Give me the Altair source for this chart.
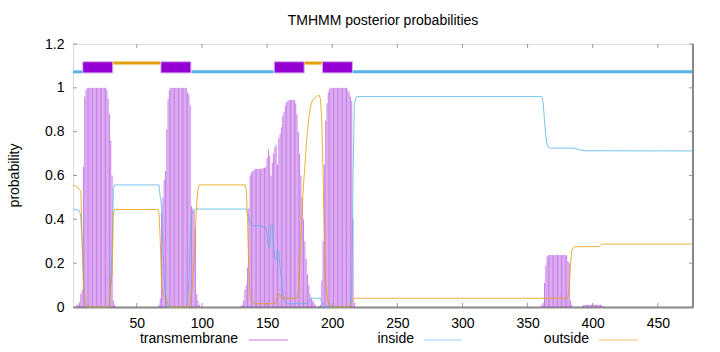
import altair as alt
import pandas as pd

# ---------------- data ----------------
seq_length = 477

# transmembrane posterior probability, one value per residue, in blocks (start residue, values)
tm_block1_start = 4
tm_block1 = [0.01, 0.01, 0.02, 0.06, 0.08, 0.64, 0.96, 0.99,
             1.0, 1.0, 1.0, 1.0, 1.0, 1.0, 1.0, 1.0, 1.0, 1.0, 1.0, 1.0, 1.0, 1.0, 1.0,
             0.99, 0.95, 0.88, 0.76, 0.6, 0.03, 0.01]
tm_block2_start = 67
tm_block2 = [0.01, 0.04, 0.43, 0.5, 0.58, 0.62, 0.81, 0.95, 0.99,
             1.0, 1.0, 1.0, 1.0, 1.0, 1.0, 1.0, 1.0, 1.0, 1.0, 1.0, 1.0, 1.0,
             0.98, 0.97, 0.92, 0.46, 0.45, 0.44, 0.36, 0.06, 0.03, 0.01]
tm_block3_start = 130
tm_block3 = [0.005, 0.01, 0.03, 0.08, 0.1, 0.18, 0.45, 0.6, 0.615, 0.62, 0.625,
             0.63, 0.63, 0.63, 0.63, 0.63, 0.632, 0.633, 0.635, 0.64, 0.68, 0.72,
             0.69, 0.6, 0.66, 0.7, 0.73, 0.74, 0.65, 0.77, 0.79, 0.82, 0.87, 0.89,
             0.92, 0.935, 0.94, 0.945, 0.945, 0.945, 0.945, 0.945, 0.93, 0.88, 0.8,
             0.7, 0.6, 0.5, 0.4, 0.3, 0.22, 0.15, 0.1, 0.06, 0.04, 0.03, 0.02, 0.01]
tm_block4_start = 190
tm_block4 = [0.005, 0.01, 0.12, 0.3, 0.65, 0.85, 0.93, 0.98, 0.995,
             1.0, 1.0, 1.0, 1.0, 1.0, 1.0, 1.0, 1.0, 1.0, 1.0, 1.0, 1.0, 1.0,
             0.99, 0.98, 0.96, 0.94, 0.4, 0.02]
tm_block5_start = 361
tm_block5 = [0.01, 0.02, 0.11, 0.19, 0.23,
             0.237, 0.237, 0.237, 0.237, 0.237, 0.237, 0.237, 0.237, 0.237, 0.237,
             0.237, 0.237, 0.237, 0.237, 0.235, 0.21, 0.2, 0.03, 0.01]
tm_block6_start = 392
tm_block6 = [0.004, 0.008, 0.01, 0.01, 0.01, 0.01, 0.01, 0.01, 0.01, 0.01, 0.01,
             0.01, 0.01, 0.01, 0.01, 0.006, 0.003]

# inside / outside posterior probability (residue, value) points of the curves
inside_res = [1, 6, 7, 8, 9, 10, 11, 12, 28, 29, 30, 31, 32, 33, 67, 68, 69, 70, 71, 72,
              73, 74, 88, 89, 90, 91, 92, 93, 94, 95, 134, 135, 136, 137, 138, 139, 146,
              147, 149, 150, 151, 152, 153, 154, 155, 156, 157, 158, 159, 160, 161, 162,
              163, 164, 165, 181, 182, 183, 184, 191, 192, 193, 194, 213, 214, 215, 216,
              217, 218, 219, 361, 362, 363, 364, 365, 366, 367, 385, 393, 477]
inside_p = [0.447, 0.44, 0.41, 0.3, 0.15, 0.02, 0.005, 0.0, 0.0, 0.01, 0.1, 0.25, 0.54,
            0.557, 0.557, 0.5, 0.46, 0.3, 0.12, 0.05, 0.01, 0.0, 0.0, 0.02, 0.12, 0.3,
            0.42, 0.435, 0.44, 0.447, 0.447, 0.43, 0.4, 0.385, 0.375, 0.37, 0.37, 0.365,
            0.365, 0.33, 0.28, 0.27, 0.37, 0.38, 0.28, 0.22, 0.21, 0.26, 0.25, 0.18, 0.13,
            0.07, 0.03, 0.02, 0.015, 0.015, 0.02, 0.03, 0.04, 0.04, 0.02, 0.005, 0.0, 0.0,
            0.01, 0.05, 0.6, 0.92, 0.955, 0.96, 0.96, 0.93, 0.85, 0.78, 0.74, 0.73, 0.725,
            0.725, 0.713, 0.712]
outside_res = [1, 4, 6, 7, 8, 9, 10, 11, 12, 29, 30, 31, 32, 33, 66, 67, 68, 69, 70, 71,
               72, 73, 74, 75, 76, 90, 91, 92, 93, 94, 95, 96, 97, 98, 133, 134, 135, 136,
               137, 138, 139, 140, 156, 157, 158, 159, 160, 161, 162, 173, 174, 175, 176,
               177, 178, 179, 180, 181, 182, 183, 184, 185, 186, 187, 188, 189, 190, 191,
               192, 193, 194, 195, 196, 197, 198, 199, 213, 214, 215, 216, 217, 380, 381,
               382, 383, 384, 385, 386, 405, 406, 407, 477]
outside_p = [0.557, 0.55, 0.535, 0.53, 0.3, 0.1, 0.02, 0.005, 0.0, 0.0, 0.1, 0.15, 0.43,
             0.445, 0.445, 0.43, 0.3, 0.1, 0.06, 0.05, 0.04, 0.03, 0.015, 0.005, 0.0, 0.0,
             0.02, 0.06, 0.12, 0.22, 0.35, 0.48, 0.54, 0.557, 0.557, 0.54, 0.4, 0.15, 0.05,
             0.03, 0.02, 0.015, 0.015, 0.03, 0.05, 0.06, 0.055, 0.045, 0.04, 0.04, 0.06,
             0.18, 0.32, 0.46, 0.56, 0.64, 0.73, 0.8, 0.86, 0.9, 0.93, 0.945, 0.95, 0.955,
             0.96, 0.965, 0.965, 0.95, 0.85, 0.6, 0.3, 0.12, 0.05, 0.02, 0.005, 0.0, 0.0,
             0.01, 0.02, 0.035, 0.04, 0.04, 0.05, 0.08, 0.2, 0.26, 0.27, 0.275, 0.276,
             0.283, 0.287, 0.287]

# predicted topology segments
seg_type = ["inside", "TMhelix", "outside", "TMhelix", "inside", "TMhelix", "outside",
            "TMhelix", "inside"]
seg_start = [1, 9, 32, 69, 92, 156, 179, 193, 216]
seg_end = [8, 31, 68, 91, 155, 178, 192, 215, 477]

x_ticks = [50, 100, 150, 200, 250, 300, 350, 400, 450]
y_ticks = [0, 0.2, 0.4, 0.6, 0.8, 1.0, 1.2]
legend_labels = ["transmembrane", "inside", "outside"]

# ---------------- build tables ----------------
tm_rows = []
for start, vals in [(tm_block1_start, tm_block1), (tm_block2_start, tm_block2),
                    (tm_block3_start, tm_block3), (tm_block4_start, tm_block4),
                    (tm_block5_start, tm_block5), (tm_block6_start, tm_block6)]:
    for i, v in enumerate(vals):
        tm_rows.append({"residue": start + i, "p": v})
tm_df = pd.DataFrame(tm_rows)
inside_df = pd.DataFrame({"residue": inside_res, "p": inside_p})
outside_df = pd.DataFrame({"residue": outside_res, "p": outside_p})
seg_df = pd.DataFrame({"type": seg_type, "start": seg_start, "end": seg_end})
xt_df = pd.DataFrame({"v": x_ticks})
yt_df = pd.DataFrame({"v": y_ticks})
one_df = pd.DataFrame({"a": [0]})

W, H = 620, 263
FONT = "Liberation Sans"
PURPLE = "#9400d3"
BLUE = "#56b4e9"
ORANGE = "#e69f00"

xs = alt.Scale(domain=[1, seq_length], nice=False, zero=False)
ys = alt.Scale(domain=[0, 1.2], nice=False, zero=False)

x_axis = alt.Axis(values=x_ticks, title=None, ticks=False, tickSize=0, grid=False,
                  domainColor="#888888", domainWidth=2, labelFont=FONT, labelFontSize=14,
                  labelColor="#000000", labelPadding=9, labelFlush=False)
y_axis = alt.Axis(values=y_ticks, format="~g", title="probability", ticks=False, tickSize=0,
                  grid=False, domain=False, labelFont=FONT, labelFontSize=14,
                  labelColor="#000000", labelPadding=9, titleFont=FONT, titleFontSize=14,
                  titleFontWeight="normal", titleColor="#000000", titleX=-59, titleY=131,
                  titleBaseline="middle", titleAngle=270)

tm_layer = alt.Chart(tm_df).mark_rule(color=PURPLE, strokeWidth=1, opacity=0.5).encode(
    x=alt.X("residue:Q", scale=xs, axis=x_axis),
    y=alt.Y("p:Q", scale=ys, axis=y_axis),
    y2=alt.datum(0),
)

inside_layer = alt.Chart(inside_df).mark_line(color=BLUE, strokeWidth=1, opacity=0.8).encode(
    x=alt.X("residue:Q", scale=xs), y=alt.Y("p:Q", scale=ys))
outside_layer = alt.Chart(outside_df).mark_line(color=ORANGE, strokeWidth=1, opacity=0.8).encode(
    x=alt.X("residue:Q", scale=xs), y=alt.Y("p:Q", scale=ys))

helix_boxes = alt.Chart(seg_df).transform_filter(alt.datum.type == "TMhelix").transform_calculate(
    x0="datum.start - 0.5", x1="datum.end + 0.5"
).mark_rect(color=PURPLE, stroke="#d8a8ee", strokeWidth=1).encode(
    x=alt.X("x0:Q", scale=xs), x2="x1:Q", y=alt.datum(1.068), y2=alt.datum(1.119))
inside_bars = alt.Chart(seg_df).transform_filter(alt.datum.type == "inside").mark_rule(
    color=BLUE, strokeWidth=3).encode(
    x=alt.X("start:Q", scale=xs), x2="end:Q", y=alt.datum(1.073))
outside_bars = alt.Chart(seg_df).transform_filter(alt.datum.type == "outside").mark_rule(
    color=ORANGE, strokeWidth=3).encode(
    x=alt.X("start:Q", scale=xs), x2="end:Q", y=alt.datum(1.113))

right_border = alt.Chart(one_df).mark_rule(color="#888888", strokeWidth=2).encode(
    x=alt.datum(seq_length), y=alt.datum(0), y2=alt.datum(1.2))

tick_style = dict(color="#999999", strokeWidth=1)
xt_bottom = alt.Chart(xt_df).mark_rule(**tick_style).encode(
    x=alt.X("v:Q", scale=xs), y=alt.value(H), y2=alt.value(H - 4))
xt_top = alt.Chart(xt_df).mark_rule(**tick_style).encode(
    x=alt.X("v:Q", scale=xs), y=alt.value(0), y2=alt.value(4))
yt_left = alt.Chart(yt_df).mark_rule(**tick_style).encode(
    y=alt.Y("v:Q", scale=ys), x=alt.value(0), x2=alt.value(4))
yt_right = alt.Chart(yt_df).mark_rule(**tick_style).encode(
    y=alt.Y("v:Q", scale=ys), x=alt.value(W - 4), x2=alt.value(W))

# legend (text to the left of its line sample, as gnuplot draws it)
leg_df = pd.DataFrame({
    "label": legend_labels,
    "tx": [165, 341, 516],
    "lx1": [176, 351, 526],
    "lx2": [215, 389, 565],
    "col": [PURPLE, BLUE, ORANGE],
    "op": [0.55, 0.6, 0.6],
})
leg_text = alt.Chart(leg_df).mark_text(align="right", baseline="middle", font=FONT,
                                       fontSize=14, color="#000000").encode(
    x=alt.X("tx:Q", scale=None), y=alt.value(295), text="label:N")
leg_line = alt.Chart(leg_df).mark_rule(strokeWidth=1).encode(
    x=alt.X("lx1:Q", scale=None), x2="lx2:Q", y=alt.value(296),
    color=alt.Color("col:N", scale=None), opacity=alt.Opacity("op:Q", scale=None))

chart = alt.layer(
    tm_layer, inside_layer, outside_layer, helix_boxes, inside_bars, outside_bars,
    xt_bottom, xt_top, yt_left, yt_right, right_border, leg_text, leg_line,
).properties(
    width=W, height=H,
    title=alt.TitleParams("TMHMM posterior probabilities", font=FONT, fontSize=14,
                          fontWeight="normal", anchor="middle", color="#000000", offset=9),
    autosize=alt.AutoSizeParams(type="none"),
    padding={"left": 73, "top": 44, "right": 27, "bottom": 45},
).configure_view(stroke="#000000", strokeWidth=1).configure(background="white")

chart.save("out.html", embed_options={"renderer": "svg", "actions": False})
